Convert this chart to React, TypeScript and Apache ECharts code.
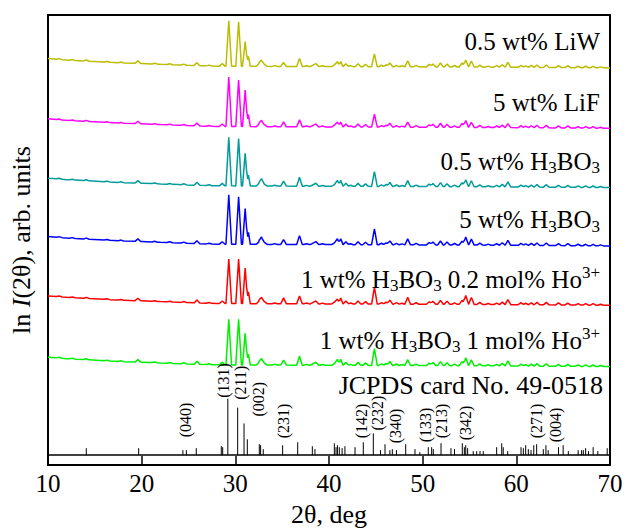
import React, { useEffect, useRef } from 'react';
import * as echarts from 'echarts';

const FONT = '"Liberation Serif", "Times New Roman", Times, serif';

// Axes
const X_MIN = 10;
const X_MAX = 70;
const X_STEP = 10;
const Y_MAX = 455;
const X_NAME = '2θ, deg';

// Samples, top to bottom
const sampleNames = [
  '0.5 wt% LiW',
  '5 wt% LiF',
  '0.5 wt% H3BO3',
  '5 wt% H3BO3',
  '1 wt% H3BO3 0.2 mol% Ho3+',
  '1 wt% H3BO3 1 mol% Ho3+',
];
const sampleRich = [
  '{m|0.5 wt% LiW}',
  '{m|5 wt% LiF}',
  '{m|0.5 wt% H}{s|3}{m|BO}{s|3}',
  '{m|5 wt% H}{s|3}{m|BO}{s|3}',
  '{m|1 wt% H}{s|3}{m|BO}{s|3}{m| 0.2 mol% Ho}{p|3+}',
  '{m|1 wt% H}{s|3}{m|BO}{s|3}{m| 1 mol% Ho}{p|3+}',
];
const sampleColors = ['#bcbc00', '#ff00ff', '#009b9b', '#0000ff', '#ff0000', '#00f000'];
const sampleOffsets = [403, 342, 282, 223, 163, 101];

// Shared background level (2θ, relative level)
const bgX = [10, 12, 14, 16, 18, 20, 22, 24, 26, 28, 35, 45, 55, 62, 70];
const bgY = [8, 6.5, 5.5, 4.5, 3.5, 3, 2.2, 1.5, 0.8, 0.3, 0, -0.3, -0.6, -1, -1.5];

// Main reflections (2θ), half widths, and heights for each sample
const mainPos = [29.3, 30.35, 31.05, 31.4, 32.8, 35.15, 36.85, 40.9, 41.25, 44.85, 48.4, 54.6, 55.2, 59.1];
const mainHalfW = [0.3, 0.3, 0.28, 0.2, 0.3, 0.3, 0.3, 0.25, 0.25, 0.3, 0.3, 0.3, 0.3, 0.3];
const heightsLiW = [46, 45, 25, 10, 6, 4, 8, 5, 5, 13, 6, 7, 6, 5];
const heightsLiF = [50, 47, 37, 12, 6, 5, 7, 5, 5, 13, 5, 7, 5, 4];
const heightsH05 = [49, 48, 33, 11, 7, 5, 9, 6, 6, 15, 6, 7, 6, 5];
const heightsH5 = [50, 48, 36, 12, 7, 5, 9, 6, 6, 16, 6, 8, 6, 5];
const heightsHo02 = [45, 45, 36, 12, 6, 6, 8, 5, 6, 17, 7, 9, 7, 5];
const heightsHo1 = [46, 46, 32, 11, 6, 5, 9, 6, 6, 17, 6, 8, 6, 5];
const sampleHeights = [heightsLiW, heightsLiF, heightsH05, heightsH5, heightsHo02, heightsHo1];

// Minor reflections shared by all samples
const minorPos = [11.2, 12.6, 14.1, 16.3, 17.8, 19.6, 21.4, 23.0, 24.5, 25.9, 27.2, 28.6, 32.55, 33.1, 34.2, 37.6, 38.3, 38.6, 39.3, 40.6, 41.8, 42.3, 43.1, 43.9, 45.6, 46.1, 46.5, 47.2, 47.8, 49.3, 50.7, 51.1, 51.9, 52.6, 53.4, 54.2, 56.1, 57.0, 57.9, 58.5, 60.5, 61.0, 61.6, 62.2, 63.2, 64.5, 65.5, 66.6, 67.4, 68.2, 69.0];
const minorH = [0.8, 0.7, 1, 0.7, 0.8, 2.5, 0.7, 0.8, 1, 3, 0.8, 2.5, 3, 2, 0.8, 0.8, 1.5, 3, 0.8, 2, 3, 1, 3, 2.5, 1.5, 2, 4, 1.5, 1, 1.5, 2.5, 3, 4, 3, 1.5, 4, 2, 1, 1.5, 2.5, 2, 1.5, 2, 2.5, 2.5, 2, 2, 1.5, 1.5, 1.5, 1];

// JCPDS card No. 49-0518 stick pattern (2θ, height)
const STICK_BASE = 10;
const stickPos = [14.09, 19.68, 24.4, 24.77, 25.83, 28.5, 28.65, 29.2, 30.25, 30.93, 31.28, 32.56, 32.7, 32.98, 35.05, 36.66, 38.22, 38.5, 40.57, 40.75, 40.9, 41.1, 41.4, 41.7, 42.78, 43.66, 44.73, 45.5, 45.98, 46.5, 46.76, 47.2, 48.19, 49.18, 49.7, 50.6, 50.96, 51.13, 51.96, 53.02, 53.4, 54.23, 54.45, 54.6, 54.8, 55.4, 55.77, 56.12, 56.47, 57.9, 58.44, 58.6, 59.08, 60.5, 60.75, 61.0, 61.28, 61.57, 61.86, 62.17, 62.88, 63.16, 63.4, 64.5, 65.0, 65.55, 66.6, 66.97, 67.15, 67.4, 67.7, 68.2, 68.7, 69.7];
const stickH = [7, 7, 5, 5, 7, 9, 8, 57, 48, 32, 16, 11, 10, 6, 10, 13, 9, 6, 12, 8, 10, 8, 7, 9, 8, 13, 22, 5, 11, 5, 6, 5, 11, 6, 3, 8, 8, 6, 12, 7, 6, 12, 8, 10, 7, 4, 4, 4, 4, 8, 12, 8, 4, 8, 7, 10, 6, 5, 10, 11, 6, 10, 5, 8, 10, 4, 5, 5, 5, 7, 4, 8, 4, 7];

// hkl labels: text, 2θ of anchor, lower end level
const hklText = ['(040)', '(131)', '(211)', '(002)', '(231)', '(142)', '(232)', '(340)', '(133)', '(213)', '(342)', '(271)', '(004)'];
const hklX = [24.73, 28.79, 30.5, 32.42, 35.09, 43.52, 45.23, 47.15, 50.25, 52.06, 54.52, 62.1, 64.23];
const hklY = [28, 68, 66, 49, 27, 27, 35, 22, 23, 27, 25, 27, 23];

const CARD_LABEL = 'JCPDS card No. 49-0518';

function bgAt(x: number): number {
  for (let i = 0; i < bgX.length - 1; i++) {
    if (x >= bgX[i] && x <= bgX[i + 1]) {
      const t = (x - bgX[i]) / (bgX[i + 1] - bgX[i]);
      return bgY[i] + t * (bgY[i + 1] - bgY[i]);
    }
  }
  return bgY[bgY.length - 1];
}

function tri(x: number, p: number, w: number, h: number): number {
  const d = Math.abs(x - p);
  return d >= w ? 0 : h * (1 - d / w);
}

function buildTrace(k: number): number[][] {
  const peaks: number[][] = [];
  mainPos.forEach((p, i) => peaks.push([p, mainHalfW[i], sampleHeights[k][i]]));
  minorPos.forEach((p, i) => peaks.push([p, 0.3, minorH[i]]));
  const knots: number[] = [...bgX];
  peaks.forEach(([p, w]) => knots.push(p - w, p, p + w));
  const xs = knots
    .filter((x) => x >= X_MIN && x <= X_MAX)
    .map((x) => Math.round(x * 1000) / 1000)
    .sort((a, b) => a - b)
    .filter((x, i, arr) => i === 0 || x !== arr[i - 1]);
  return xs.map((x) => {
    let y = sampleOffsets[k] + bgAt(x);
    peaks.forEach(([p, w, h]) => (y += tri(x, p, w, h)));
    return [x, y];
  });
}

const mainStyle = { fontFamily: FONT, fontSize: 25, fill: '#000', lineHeight: 30 };
const rich = {
  m: { fontFamily: FONT, fontSize: 25, lineHeight: 30, fill: '#000', color: '#000' },
  s: { fontFamily: FONT, fontSize: 17, lineHeight: 17, verticalAlign: 'bottom', fill: '#000', color: '#000' },
  p: { fontFamily: FONT, fontSize: 17, lineHeight: 17, verticalAlign: 'top', fill: '#000', color: '#000' },
};

export default function App() {
  const ref = useRef<HTMLDivElement>(null);
  useEffect(() => {
    if (!ref.current) return;
    const chart = echarts.init(ref.current, null, { renderer: 'svg' });

    const traceSeries = sampleNames.map((name, k) => ({
      type: 'line',
      name,
      data: buildTrace(k),
      showSymbol: false,
      symbol: 'none',
      lineStyle: { color: sampleColors[k], width: 1.5 },
      itemStyle: { color: sampleColors[k] },
      z: 3,
    }));

    const labelData = sampleNames.map((_, k) => [68.93, sampleOffsets[k] + 25, k]);

    const option: any = {
      animation: false,
      grid: { left: 48, right: 19, top: 15, bottom: 62, show: true, borderColor: '#000', borderWidth: 2, backgroundColor: 'transparent' },
      xAxis: {
        type: 'value',
        min: X_MIN,
        max: X_MAX,
        interval: X_STEP,
        name: X_NAME,
        nameLocation: 'middle',
        nameGap: 36,
        nameTextStyle: { fontFamily: FONT, fontSize: 26, color: '#000' },
        axisLine: { show: false },
        axisTick: { show: true, inside: true, length: 9, lineStyle: { color: '#000', width: 1.5 } },
        axisLabel: { fontFamily: FONT, fontSize: 25, color: '#000', margin: 6 },
        splitLine: { show: false },
      },
      yAxis: {
        type: 'value',
        min: 0,
        max: Y_MAX,
        name: '{t|ln }{i|I}{t|(2θ), arb. units}',
        nameLocation: 'middle',
        nameRotate: 90,
        nameGap: 14,
        nameTextStyle: {
          rich: {
            t: { fontFamily: FONT, fontSize: 26, color: '#000' },
            i: { fontFamily: FONT, fontSize: 26, fontStyle: 'italic', color: '#000' },
          },
        },
        axisLine: { show: false },
        axisTick: { show: false },
        axisLabel: { show: false },
        splitLine: { show: false },
      },
      series: [
        ...traceSeries,
        {
          type: 'line',
          data: [[X_MIN, STICK_BASE], [X_MAX, STICK_BASE]],
          showSymbol: false,
          symbol: 'none',
          lineStyle: { color: '#000', width: 1.5 },
          z: 2,
        },
        {
          type: 'custom',
          data: stickPos.map((p, i) => [p, stickH[i]]),
          encode: { x: 0, y: 1 },
          renderItem: (params: any, api: any) => {
            const x = api.value(0);
            const h = api.value(1);
            const a = api.coord([x, STICK_BASE]);
            const b = api.coord([x, STICK_BASE + h]);
            return {
              type: 'line',
              shape: { x1: a[0], y1: a[1], x2: b[0], y2: b[1] },
              style: { stroke: '#000', lineWidth: 1 },
            };
          },
          z: 2,
        },
        {
          type: 'custom',
          data: hklX.map((x, i) => [x, hklY[i], i]),
          encode: { x: 0, y: 1 },
          renderItem: (params: any, api: any) => {
            const i = api.value(2);
            const a = api.coord([api.value(0), api.value(1)]);
            return {
              type: 'text',
              x: a[0],
              y: a[1],
              rotation: Math.PI / 2,
              style: {
                text: hklText[i],
                fontFamily: FONT,
                fontSize: 16,
                fill: '#000',
                align: 'left',
                verticalAlign: 'middle',
              },
            };
          },
          z: 4,
        },
        {
          type: 'custom',
          data: labelData,
          encode: { x: 0, y: 1 },
          renderItem: (params: any, api: any) => {
            const k = api.value(2);
            const a = api.coord([api.value(0), api.value(1)]);
            return {
              type: 'text',
              x: a[0],
              y: a[1],
              style: {
                text: sampleRich[k],
                rich,
                ...mainStyle,
                align: 'right',
                verticalAlign: 'middle',
              },
            };
          },
          z: 5,
        },
        {
          type: 'custom',
          data: [[69.25, 80]],
          encode: { x: 0, y: 1 },
          renderItem: (params: any, api: any) => {
            const a = api.coord([api.value(0), api.value(1)]);
            return {
              type: 'text',
              x: a[0],
              y: a[1],
              style: {
                text: CARD_LABEL,
                fontFamily: FONT,
                fontSize: 26,
                fill: '#000',
                align: 'right',
                verticalAlign: 'middle',
              },
            };
          },
          z: 5,
        },
      ],
    };
    chart.setOption(option);
    return () => chart.dispose();
  }, []);
  return (
    <div
      ref={ref}
      style={{ position: 'fixed', left: 0, top: 0, width: 629, height: 532, background: '#fff' }}
    />
  );
}
